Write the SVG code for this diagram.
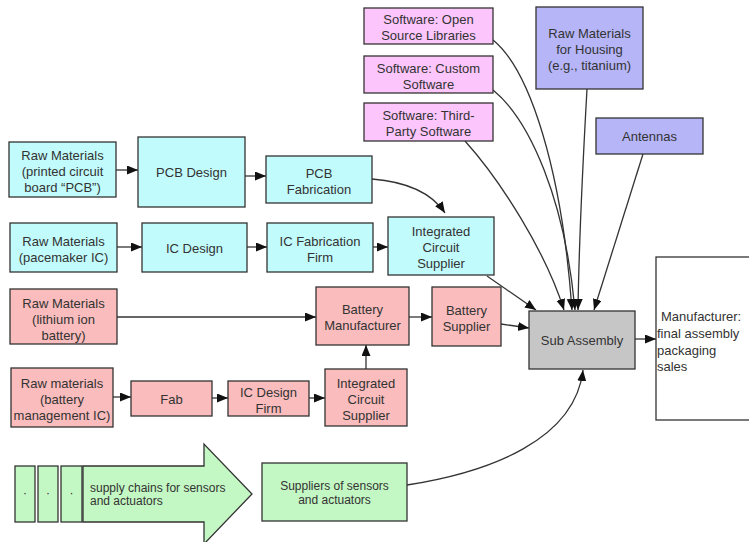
<svg xmlns="http://www.w3.org/2000/svg" width="749" height="542" viewBox="0 0 749 542">
<style>
.b{stroke:#333;stroke-width:1.3}
.cy{fill:#c2fbfb}.pk{fill:#fabcbc}.mg{fill:#fcc6fc}.lv{fill:#b6b5f7}.gr{fill:#c3f7c3}.gy{fill:#c6c6c6}.wh{fill:#fff}
text{font-family:"Liberation Sans",Arial,sans-serif;font-size:13px;fill:#333;text-anchor:middle}
.sm{font-size:12px}
.l{text-anchor:start}
.c{fill:none;stroke:#333;stroke-width:1.3;marker-end:url(#ah)}
</style>
<defs>
<marker id="ah" markerUnits="userSpaceOnUse" markerWidth="12" markerHeight="10" refX="11" refY="4.5" orient="auto"><path d="M0,0 L11,4.5 L0,9 z" fill="#111"/></marker>
</defs>
<rect width="749" height="542" fill="#fff"/>
<g id="connectors">
<path class="c" d="M116,170 H138"/>
<path class="c" d="M245,176 H266"/>
<path class="c" d="M372,179 C410,182 433,195 445,213"/>
<path class="c" d="M117,247 H142"/>
<path class="c" d="M247,247 H267"/>
<path class="c" d="M373,247 H388"/>
<path class="c" d="M487,276 L536,310"/>
<path class="c" d="M117,317 H316"/>
<path class="c" d="M409,317 H432"/>
<path class="c" d="M501,324 L529,328"/>
<path class="c" d="M113,397 H131"/>
<path class="c" d="M212,398 H228"/>
<path class="c" d="M309,398 H325"/>
<path class="c" d="M366,369 V345"/>
<path class="c" d="M635,339 H656"/>
<path class="c" d="M407,485 C490,472 575,440 583,370"/>
<path class="c" d="M493,40 C530,70 562,170 572,310"/>
<path class="c" d="M493,90 C530,120 565,200 575,310"/>
<path class="c" d="M465,141 C500,180 545,250 564,310"/>
<path class="c" d="M587,89 C583,160 579,240 578,310"/>
<path class="c" d="M643,154 L594,310"/>
</g>
<g id="sw-open"><rect class="b mg" x="364" y="8" width="129" height="36"/><text x="428.5" y="24">Software: Open</text><text x="428.5" y="40">Source Libraries</text></g>
<g id="sw-custom"><rect class="b mg" x="364" y="56" width="129" height="37"/><text x="428.5" y="72.5">Software: Custom</text><text x="428.5" y="88.5">Software</text></g>
<g id="sw-third"><rect class="b mg" x="364" y="103" width="129" height="38"/><text x="428.5" y="120">Software: Third-</text><text x="428.5" y="136">Party Software</text></g>
<g id="housing"><rect class="b lv" x="536" y="7" width="107" height="82"/><text x="589.5" y="38">Raw Materials</text><text x="589.5" y="54">for Housing</text><text x="589.5" y="70">(e.g., titanium)</text></g>
<g id="antennas"><rect class="b lv" x="596" y="118" width="107" height="36"/><text x="649.5" y="141">Antennas</text></g>
<g id="raw-pcb"><rect class="b cy" x="9" y="142" width="107" height="55"/><text x="62.5" y="159.5">Raw Materials</text><text x="62.5" y="175.5">(printed circuit</text><text x="62.5" y="191.5">board “PCB”)</text></g>
<g id="pcb-design"><rect class="b cy" x="138" y="137" width="107" height="70"/><text x="191.5" y="177">PCB Design</text></g>
<g id="pcb-fab"><rect class="b cy" x="266" y="156" width="106" height="47"/><text x="319" y="177.5">PCB</text><text x="319" y="193.5">Fabrication</text></g>
<g id="raw-ic"><rect class="b cy" x="10" y="223" width="107" height="49"/><text x="63.5" y="245.5">Raw Materials</text><text x="63.5" y="261.5">(pacemaker IC)</text></g>
<g id="ic-design"><rect class="b cy" x="142" y="223" width="105" height="49"/><text x="194.5" y="252.5">IC Design</text></g>
<g id="ic-fab"><rect class="b cy" x="267" y="223" width="106" height="49"/><text x="320" y="245.5">IC Fabrication</text><text x="320" y="261.5">Firm</text></g>
<g id="ic-supplier"><rect class="b cy" x="388" y="217" width="106" height="58"/><text x="441" y="236">Integrated</text><text x="441" y="252">Circuit</text><text x="441" y="268">Supplier</text></g>
<g id="raw-li"><rect class="b pk" x="10" y="289" width="107" height="55"/><text x="63.5" y="307.5">Raw Materials</text><text x="63.5" y="323.5">(lithium ion</text><text x="63.5" y="339.5">battery)</text></g>
<g id="bat-mfr"><rect class="b pk" x="316" y="287" width="93" height="58"/><text x="362.5" y="314">Battery</text><text x="362.5" y="330">Manufacturer</text></g>
<g id="bat-sup"><rect class="b pk" x="432" y="287" width="69" height="59"/><text x="466.5" y="314.5">Battery</text><text x="466.5" y="330.5">Supplier</text></g>
<g id="raw-bm"><rect class="b pk" x="11" y="368" width="102" height="59"/><text x="62" y="388">Raw materials</text><text x="62" y="404">(battery</text><text x="62" y="420">management IC)</text></g>
<g id="fab"><rect class="b pk" x="131" y="381" width="81" height="35"/><text x="171.5" y="403.5">Fab</text></g>
<g id="ic-design-firm"><rect class="b pk" x="228" y="381" width="81" height="35"/><text x="268.5" y="396.5">IC Design</text><text x="268.5" y="412.5">Firm</text></g>
<g id="ic-supplier2"><rect class="b pk" x="325" y="369" width="82" height="57"/><text x="366" y="387.5">Integrated</text><text x="366" y="403.5">Circuit</text><text x="366" y="419.5">Supplier</text></g>
<g id="sub-assembly"><rect class="b gy" x="529" y="311" width="106" height="58"/><text x="582" y="345">Sub Assembly</text></g>
<g id="manufacturer"><rect class="b wh" x="656" y="257" width="110" height="163"/><text class="l" x="661" y="321">Manufacturer:</text><text class="l" x="657" y="338">final assembly</text><text class="l" x="657" y="355">packaging</text><text class="l" x="657" y="371">sales</text></g>
<g id="dots"><rect class="b gr" x="15" y="466" width="20" height="56"/><rect class="b gr" x="38" y="466" width="20" height="56"/><rect class="b gr" x="61" y="466" width="21" height="56"/><text class="sm" x="25" y="497">·</text><text class="sm" x="48" y="497">·</text><text class="sm" x="71.5" y="497">·</text></g>
<g id="supply-chains"><path class="b gr" d="M83,466 H204 V444 L252,494 L204,544 V522 H83 Z"/><text class="sm l" x="90" y="491.5">supply chains for sensors</text><text class="sm l" x="90" y="505">and actuators</text></g>
<g id="suppliers-sensors"><rect class="b gr" x="262" y="463" width="145" height="58"/><text class="sm" x="334.5" y="489.5">Suppliers of sensors</text><text class="sm" x="334.5" y="504">and actuators</text></g>
</svg>
